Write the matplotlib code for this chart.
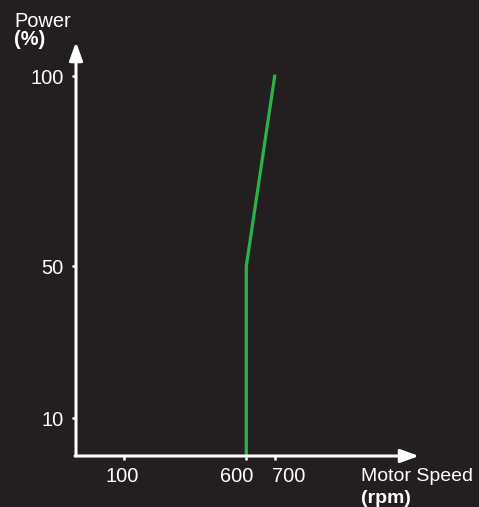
import numpy as np
import matplotlib
matplotlib.use('Agg')
import matplotlib.pyplot as plt
import matplotlib.transforms as mtransforms
from matplotlib.scale import FuncScale

# data
speed = [600, 600, 700]          # rpm
power = [0, 50, 100]             # %
x_ticks = [100, 600, 700]
y_ticks = [10, 50, 100]

# the x axis of the original is a sketch, not to scale: piecewise mapping
x_knots = [0, 100, 600, 700, 1400]
x_disp = [0, 47.7, 170.3, 198.7, 343]

bg = '#231f20'
green = '#2bb34b'
fs = 14.4
plt.rcParams['font.family'] = ['Liberation Sans', 'DejaVu Sans']

fig = plt.figure(figsize=(4.79, 5.07), dpi=100, facecolor=bg)
W, H = 479, 507
ax = fig.add_axes([76 / W, (H - 456) / H, 343 / W, 414 / H])
ax.set_facecolor(bg)

fwd = lambda v: np.interp(v, x_knots, x_disp)
inv = lambda v: np.interp(v, x_disp, x_knots)
ax.set_xscale(FuncScale(ax, (fwd, inv)))
ax.set_xlim(0, 1400)
ax.set_ylim(0, 109)

ax.plot(speed, power, color=green, lw=2.3, solid_joinstyle='miter', clip_on=False)

for s in ax.spines.values():
    s.set_visible(False)

arrow = dict(arrowstyle='-|>,head_length=0.55,head_width=0.2', mutation_scale=20,
             lw=2.2, color='white', shrinkA=0, shrinkB=0)
ax.annotate('', xy=(1, 0), xytext=(-0.003, 0), xycoords='axes fraction', arrowprops=arrow)
ax.annotate('', xy=(0, 1), xytext=(0, 0), xycoords='axes fraction', arrowprops=arrow)

ax.set_xticks(x_ticks)
ax.set_xticklabels([str(v) for v in x_ticks])
ax.set_yticks(y_ticks)
ax.set_yticklabels([str(v) for v in y_ticks])
ax.minorticks_off()
ax.tick_params(axis='both', colors='white', labelcolor='white', labelsize=fs,
               length=3, width=1.8, direction='out')
ax.tick_params(axis='y', pad=6)
ax.tick_params(axis='x', pad=5)

# the 600 / 700 labels are pushed apart in the original
shifts = [-2, -10, 14]
for lab, dx in zip(ax.get_xticklabels(), shifts):
    lab.set_transform(lab.get_transform() +
                      mtransforms.ScaledTranslation(dx / 100, 0, fig.dpi_scale_trans))

fig.text(14 / W, 1 - 27 / H, 'Power', color='white', fontsize=fs, va='baseline')
fig.text(14 / W, 1 - 45 / H, '(%)', color='white', fontsize=fs, fontweight='bold',
         va='baseline')
fig.text(361 / W, 1 - 481 / H, 'Motor Speed', color='white', fontsize=14, va='baseline')
fig.text(361 / W, 1 - 503 / H, '(rpm)', color='white', fontsize=14, fontweight='bold',
         va='baseline')

fig.savefig('out.png', dpi=100, facecolor=bg)
